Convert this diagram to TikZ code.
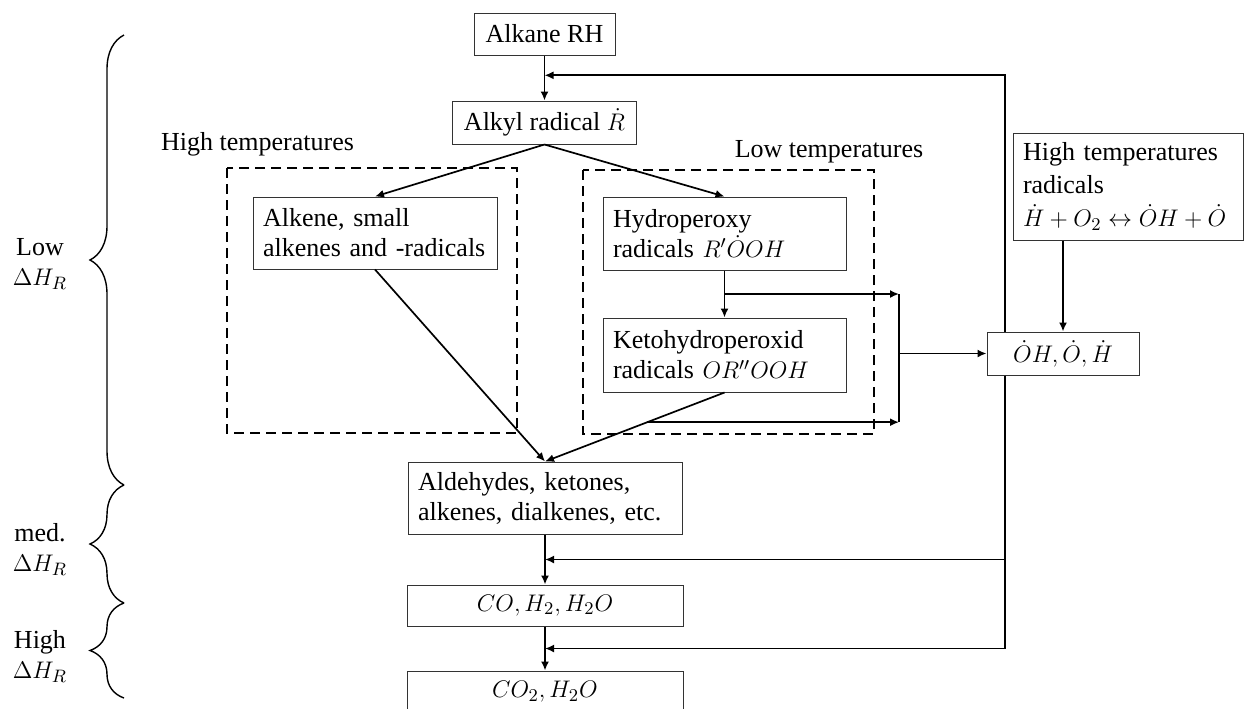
\documentclass[tikz,border=0pt]{standalone}
\usepackage{amsmath,amssymb}
\usepackage{fontspec}
\setmainfont{Liberation Serif}
\usepackage{tikz}
\usetikzlibrary{arrows.meta,positioning,calc,decorations.pathreplacing}

\begin{document}
\begin{tikzpicture}[
    x=0.5pt, y=-0.5pt,
    font=\fontsize{13}{15}\selectfont,
    >={Latex[length=4.5pt,width=4pt]},
    stage/.style={draw=black!80, line width=0.5pt, fill=white, inner xsep=5pt, inner ysep=2pt},
    wide/.style={stage, align=left, text width=#1},
    flow/.style={->, line width=0.85pt, draw=black},
    link/.style={line width=0.85pt, draw=black},
    group/.style={draw=black, line width=0.75pt, dash pattern=on 5pt off 3pt},
    note/.style={align=center, inner sep=0pt},
    hbrace/.style={decorate, decoration={brace, amplitude=17pt}, line width=0.7pt}
]
\useasboundingbox (0,0) rectangle (1245,708);

% main chain
\node[stage, minimum width=70.5pt, minimum height=21pt] (alkane) at (544.5,34) {Alkane RH};
\node[stage, below=22.5pt of alkane, minimum width=92pt, minimum height=21.5pt] (alkyl) {Alkyl radical $\dot{R}$};

\node[note] (hightemp) at (257.5,144) {High temperatures};
\node[note] (lowtemp) at (829,152) {Low temperatures};
\draw[group] (227,168) rectangle (517,433);
\draw[group] (583,170) rectangle (874,434);

\node[wide=112pt, minimum height=36pt] (alkene) at (375,233) {Alkene, small\\alkenes and -radicals};
\node[wide=111.5pt, minimum height=36.5pt] (hydro) at (724.5,233.5) {Hydroperoxy\\radicals $R'\dot{O}OH$};
\node[wide=111.5pt, minimum height=37pt] (keto) at (724.5,355) {Ketohydroperoxid\\radicals $OR''OOH$};

\node[wide=127pt, minimum height=36pt] (aldeh) at (545,498) {Aldehydes, ketones,\\alkenes, dialkenes, etc.};
\node[stage, below=25pt of aldeh, minimum width=138pt, minimum height=20.5pt] (co) {$CO, H_2, H_2O$};
\node[stage, below=22pt of co, minimum width=138pt, minimum height=21pt] (co2) {$CO_2, H_2O$};

% radicals
\node[wide=105pt, minimum height=53.5pt, font=\fontsize{13}{16.5}\selectfont] (radicals) at (1128,186.5) {High temperatures\\radicals\\$\dot{H}+O_2\leftrightarrow \dot{O}H+\dot{O}$};
\node[stage, minimum width=76pt, minimum height=21.5pt] (ohbox) at (1063,353.5) {$\dot{O}H, \dot{O}, \dot{H}$};

\coordinate (fbx) at (1005,0);
\coordinate (bar) at (899,0);
\coordinate (m1) at ($(alkane.south)!0.44!(alkyl.north)$);
\coordinate (m2) at ($(aldeh.south)!0.5!(co.north)$);
\coordinate (m3) at ($(co.south)!0.5!(co2.north)$);
\coordinate (hk) at ($(hydro.south)!0.5!(keto.north)$);
\coordinate (kd) at ($(keto.south)!0.43!(aldeh.north)$);

\draw[flow] (alkane) -- (alkyl);
\draw[flow] (alkyl.south) -- (alkene.north);
\draw[flow] (alkyl.south) -- (hydro.north);
\draw[flow] (hydro) -- (keto);
\draw[flow] (alkene.south) -- (aldeh.north);
\draw[flow] (keto.south) -- (aldeh.north);
\draw[flow] (aldeh) -- (co);
\draw[flow] (co) -- (co2);

\draw[flow] (hk) -- (hk -| bar);
\draw[flow] (kd) -- (kd -| bar);
\draw[link] (hk -| bar) -- (kd -| bar);
\draw[flow] (ohbox.west -| bar) -- (ohbox.west);
\draw[flow] (radicals.south -| ohbox.north) -- (ohbox.north);

% feedback of radicals
\draw[flow] (ohbox.north -| fbx) |- (m1);
\draw[flow] (ohbox.south -| fbx) |- (m2);
\draw[flow] (ohbox.south -| fbx) |- (m3);

% heat release
\draw[hbrace] (124,485) -- (124,35);
\draw[hbrace] (124,603) -- (124,485);
\draw[hbrace] (124,698) -- (124,603);
\node[note] (lowdh) at (40,264) {Low\\$\Delta H_R$};
\node[note] (meddh) at (40,549) {med.\\$\Delta H_R$};
\node[note] (highdh) at (40,656) {High\\$\Delta H_R$};
\end{tikzpicture}
\end{document}
